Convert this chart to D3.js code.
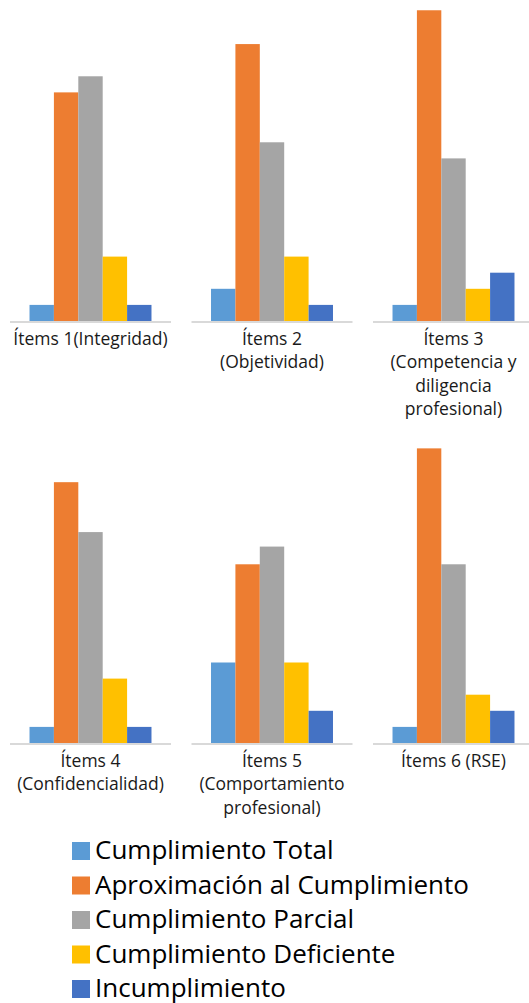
<!DOCTYPE html>
<html>
<head>
<meta charset="utf-8">
<script src="https://cdn.jsdelivr.net/npm/d3@7"></script>
<style>
  html, body { margin: 0; padding: 0; background: #fff; }
  svg { display: block; }
  text { font-family: "Open Sans", "Noto Sans", sans-serif; }
</style>
</head>
<body>
<div id="chart"></div>
<script>
// categorías (una por panel), ya partidas en líneas como en el original
var itemLabels = [
	["Ítems 1(Integridad)"],
	["Ítems 2", "(Objetividad)"],
	["Ítems 3", "(Competencia y", "diligencia", "profesional)"],
	["Ítems 4", "(Confidencialidad)"],
	["Ítems 5", "(Comportamiento", "profesional)"],
	["Ítems 6 (RSE)"]
];

var seriesNames = ["Cumplimiento Total", "Aproximación al Cumplimiento", "Cumplimiento Parcial", "Cumplimiento Deficiente", "Incumplimiento"];
var seriesColors = ["#5B9BD5", "#ED7D31", "#A5A5A5", "#FFC000", "#4472C4"];

// valores por serie (uno por ítem)
var cumplimientoTotal = [1, 2, 1, 1, 5, 1];
var aproximacion      = [14.2, 17.2, 19.3, 16.2, 11.1, 18.3];
var cumplimientoParcial = [15.2, 11.1, 10.1, 13.1, 12.2, 11.1];
var cumplimientoDeficiente = [4, 4, 2, 4, 5, 3];
var incumplimiento    = [1, 1, 3, 1, 2, 2];

var seriesValues = [cumplimientoTotal, aproximacion, cumplimientoParcial, cumplimientoDeficiente, incumplimiento];

var width = 529, height = 1003;
var panelWidth = 161;
var colStep = 181.5;
var baselines = [321, 743];

var svg = d3.select("#chart").append("svg")
	.attr("width", width)
	.attr("height", height);

// escala vertical común a todos los paneles
var yScale = d3.scaleLinear()
	.domain([0, 20])
	.range([0, 322]);

// escala de las barras dentro de cada panel
var xScale = d3.scaleBand()
	.domain(seriesNames)
	.range([0, panelWidth])
	.paddingInner(0)
	.paddingOuter(0.8);

itemLabels.forEach(function(lines, i) {
	var col = i % 3;
	var row = Math.floor(i / 3);
	var base = baselines[row];

	var panel = svg.append("g")
		.attr("transform", "translate(" + (10 + col * colStep) + "," + base + ")");

	// barras
	panel.selectAll("rect")
		.data(seriesNames)
		.enter()
		.append("rect")
		.attr("x", function(d) { return xScale(d); })
		.attr("y", function(d, s) { return -yScale(seriesValues[s][i]); })
		.attr("width", xScale.bandwidth())
		.attr("height", function(d, s) { return yScale(seriesValues[s][i]); })
		.style("fill", function(d, s) { return seriesColors[s]; });

	// eje horizontal
	panel.append("line")
		.attr("x1", 0)
		.attr("x2", panelWidth)
		.attr("y1", 1)
		.attr("y2", 1)
		.style("stroke", "#D9D9D9")
		.style("stroke-width", 2);

	// etiqueta
	var label = panel.append("text")
		.attr("text-anchor", "middle")
		.attr("font-size", 17.5)
		.style("fill", "#1a1a1a");
	label.selectAll("tspan")
		.data(lines)
		.enter()
		.append("tspan")
		.attr("x", panelWidth / 2)
		.attr("y", function(d, k) { return 24 + k * 23.3; })
		.text(function(d) { return d; });
});

// leyenda
var legend = svg.append("g")
	.attr("transform", "translate(72,842)");

var legendItem = legend.selectAll("g")
	.data(seriesNames)
	.enter()
	.append("g")
	.attr("transform", function(d, s) { return "translate(0," + (s * 34.5) + ")"; });

legendItem.append("rect")
	.attr("width", 18)
	.attr("height", 18)
	.style("fill", function(d, s) { return seriesColors[s]; });

legendItem.append("text")
	.attr("x", 23)
	.attr("y", 17)
	.attr("font-size", 26)
	.style("fill", "#000")
	.text(function(d) { return d; });
</script>
</body>
</html>
